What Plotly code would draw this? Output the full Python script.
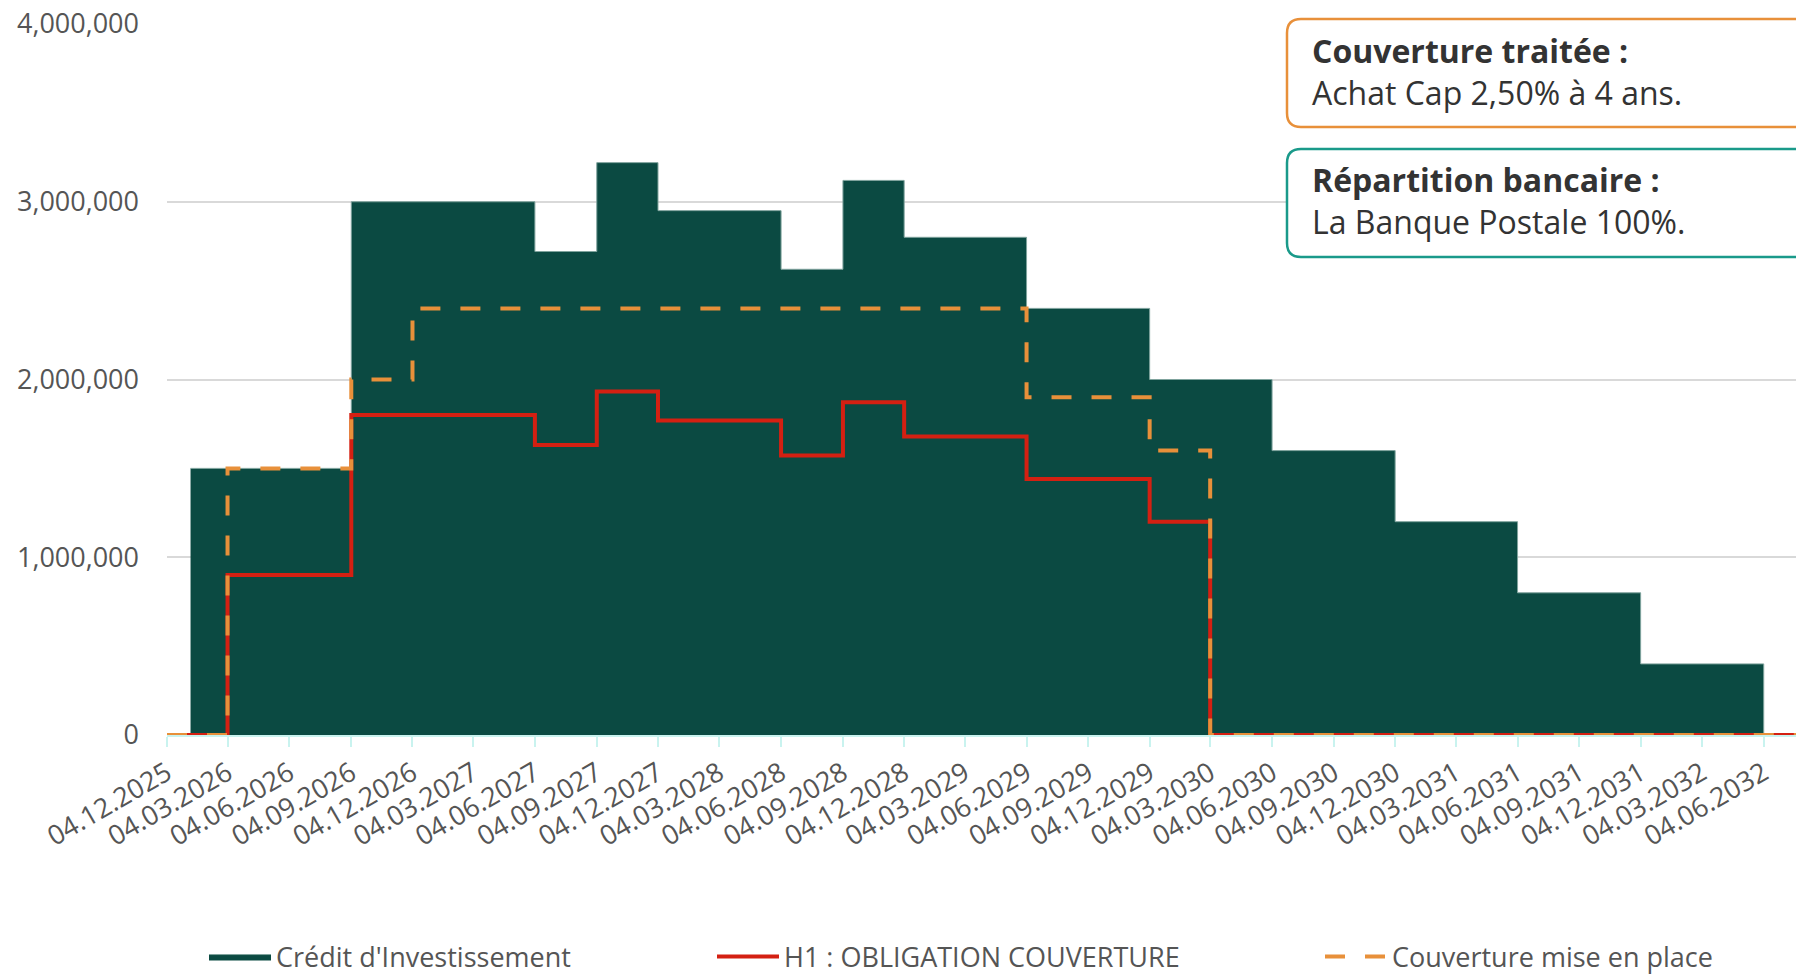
import plotly.graph_objects as go

# ---------------- data ----------------
tick_dates = ["2025-12-04", "2026-03-04", "2026-06-04", "2026-09-04", "2026-12-04",
              "2027-03-04", "2027-06-04", "2027-09-04", "2027-12-04", "2028-03-04",
              "2028-06-04", "2028-09-04", "2028-12-04", "2029-03-04", "2029-06-04",
              "2029-09-04", "2029-12-04", "2030-03-04", "2030-06-04", "2030-09-04",
              "2030-12-04", "2031-03-04", "2031-06-04", "2031-09-04", "2031-12-04",
              "2032-03-04", "2032-06-04"]
tick_labels = ["04.12.2025", "04.03.2026", "04.06.2026", "04.09.2026", "04.12.2026",
               "04.03.2027", "04.06.2027", "04.09.2027", "04.12.2027", "04.03.2028",
               "04.06.2028", "04.09.2028", "04.12.2028", "04.03.2029", "04.06.2029",
               "04.09.2029", "04.12.2029", "04.03.2030", "04.06.2030", "04.09.2030",
               "04.12.2030", "04.03.2031", "04.06.2031", "04.09.2031", "04.12.2031",
               "04.03.2032", "04.06.2032"]

credit_dates = ["2026-01-08", "2026-09-04", "2027-06-04", "2027-09-04", "2027-12-04",
                "2028-06-04", "2028-09-04", "2028-12-04", "2029-06-04", "2029-12-04",
                "2030-06-04", "2030-12-04", "2031-06-04", "2031-12-04", "2032-06-04"]
credit_values = [1500000, 3000000, 2720000, 3220000, 2950000,
                 2620000, 3120000, 2800000, 2400000, 2000000,
                 1600000, 1200000, 800000, 400000, 0]

h1_dates = ["2025-12-04", "2026-03-04", "2026-09-04", "2027-06-04", "2027-09-04",
            "2027-12-04", "2028-06-04", "2028-09-04", "2028-12-04", "2029-06-04",
            "2029-12-04", "2030-03-04", "2032-08-01"]
h1_values = [0, 900000, 1800000, 1632000, 1932000,
             1770000, 1572000, 1872000, 1680000, 1440000,
             1200000, 0, 0]

cov_dates = ["2025-12-04", "2026-03-04", "2026-09-04", "2026-12-04", "2029-06-04",
             "2029-12-04", "2030-03-04", "2032-08-01"]
cov_values = [0, 1500000, 2000000, 2400000, 1900000,
              1600000, 0, 0]

x_start = "2025-12-04"
x_end = "2032-07-22"

# ---------------- styles ----------------
GREEN = "#0b4a42"
RED = "#d42012"
ORANGE = "#e8903a"
TEAL = "#1a9a8a"
FONT = "Open Sans"
TXT = "#555555"

W, H = 1796, 977
ML, MR, MT, MB = 167, 0, 24, 242
PW, PH = W - ML - MR, H - MT - MB


def px_to_paper(px, py):
    return (px - ML) / PW, (H - MB - py) / PH


def rounded_rect(x0, y0, x1, y1, r):
    def P(x, y):
        a, b = px_to_paper(x, y)
        return f"{a:.5f},{b:.5f}"
    return (f"M {P(x0 + r, y0)} L {P(x1 - r, y0)} Q {P(x1, y0)} {P(x1, y0 + r)} "
            f"L {P(x1, y1 - r)} Q {P(x1, y1)} {P(x1 - r, y1)} "
            f"L {P(x0 + r, y1)} Q {P(x0, y1)} {P(x0, y1 - r)} "
            f"L {P(x0, y0 + r)} Q {P(x0, y0)} {P(x0 + r, y0)} Z")


fig = go.Figure()

fig.add_trace(go.Scatter(
    x=credit_dates, y=credit_values, mode="lines", line_shape="hv",
    fill="tozeroy", fillcolor=GREEN, line=dict(color="#7fa39d", width=1),
    name="Crédit d'Investissement", legend="legend",
))
fig.add_trace(go.Scatter(
    x=h1_dates, y=h1_values, mode="lines", line_shape="hv",
    line=dict(color=RED, width=4),
    name="H1 : OBLIGATION COUVERTURE", legend="legend2",
))
fig.add_trace(go.Scatter(
    x=cov_dates, y=cov_values, mode="lines", line_shape="hv",
    line=dict(color=ORANGE, width=4, dash="20px,20px"),
    name="Couverture mise en place", legend="legend3",
))

leg_common = dict(orientation="h", yanchor="middle", xanchor="left",
                  font=dict(family=FONT, size=27, color=TXT),
                  bgcolor="rgba(0,0,0,0)", itemwidth=62)
lx1, ly = px_to_paper(204, 957)
lx2, _ = px_to_paper(712, 957)
lx3, _ = px_to_paper(1320, 957)

fig.update_layout(
    width=W, height=H,
    margin=dict(l=ML, r=MR, t=MT, b=MB, autoexpand=False),
    paper_bgcolor="white", plot_bgcolor="white",
    font=dict(family=FONT, size=27, color=TXT),
    legend=dict(x=lx1, y=ly, **leg_common),
    legend2=dict(x=lx2, y=ly, **leg_common),
    legend3=dict(x=lx3, y=ly, **leg_common),
    xaxis=dict(
        type="date", range=[x_start, x_end],
        tickvals=tick_dates, ticktext=tick_labels, tickangle=-30,
        showgrid=False, showline=True, linecolor="#c9f3ef", linewidth=2,
        ticks="outside", ticklen=10, tickwidth=2, tickcolor="#c9f3ef",
        tickfont=dict(family=FONT, size=27, color=TXT),
        zeroline=False,
    ),
    yaxis=dict(
        range=[0, 4000000], dtick=1000000, tickformat=",",
        showgrid=True, gridcolor="#d9d9d9", gridwidth=2,
        zeroline=False, showline=False, ticklabelstandoff=27,
        tickfont=dict(family=FONT, size=27, color=TXT),
    ),
    showlegend=True,
)

# annotation boxes
shapes = [
    dict(type="path", xref="paper", yref="paper",
         path=rounded_rect(1287, 19, 1830, 127, 14),
         line=dict(color=ORANGE, width=2.5), fillcolor="white", layer="above"),
    dict(type="path", xref="paper", yref="paper",
         path=rounded_rect(1287, 149, 1830, 257, 14),
         line=dict(color=TEAL, width=2.5), fillcolor="white", layer="above"),
]
fig.update_layout(shapes=shapes)

ax1, ay1 = px_to_paper(1310, 72)
ax2, ay2 = px_to_paper(1310, 201)
fig.add_annotation(x=ax1, y=ay1, xref="paper", yref="paper", xanchor="left", yanchor="middle",
                   align="left", showarrow=False,
                   text="<b>Couverture traitée :</b><br>Achat Cap 2,50% à 4 ans.",
                   font=dict(family=FONT, size=32, color="#333333"))
fig.add_annotation(x=ax2, y=ay2, xref="paper", yref="paper", xanchor="left", yanchor="middle",
                   align="left", showarrow=False,
                   text="<b>Répartition bancaire :</b><br>La Banque Postale 100%.",
                   font=dict(family=FONT, size=32, color="#333333"))

fig.write_html("out.html", config={"displayModeBar": False},
               post_script="document.body.style.margin='0';document.body.style.overflow='hidden';")
